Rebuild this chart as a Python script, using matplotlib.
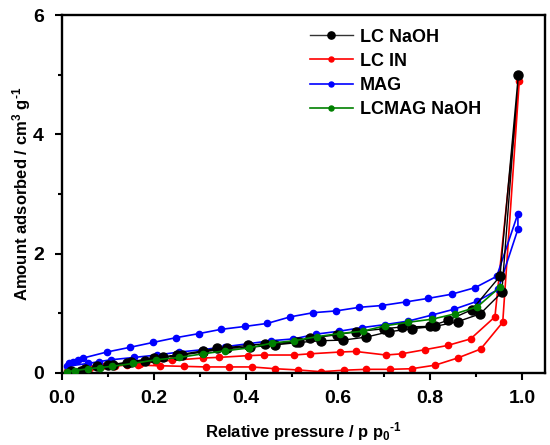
import numpy as np
import matplotlib.pyplot as plt
from matplotlib.ticker import MultipleLocator

plt.rcParams['font.family'] = ['Liberation Sans', 'DejaVu Sans']
plt.rcParams['font.weight'] = 'bold'
plt.rcParams['mathtext.fontset'] = 'custom'
plt.rcParams['mathtext.bf'] = 'Liberation Sans:bold'
plt.rcParams['mathtext.rm'] = 'Liberation Sans:bold'
plt.rcParams['mathtext.default'] = 'bf'

# LC NaOH: adsorption up, then desorption back down
lc_naoh_x = [0.017, 0.04, 0.075, 0.111, 0.14, 0.18, 0.22, 0.26, 0.306, 0.358, 0.409, 0.463,
             0.514, 0.563, 0.61, 0.661, 0.71, 0.76, 0.811, 0.86, 0.909, 0.956, 0.992,
             0.952, 0.891, 0.838, 0.80, 0.738, 0.699, 0.638, 0.597, 0.539, 0.509, 0.44,
             0.405, 0.336, 0.306, 0.25, 0.20, 0.15, 0.10, 0.05, 0.02]
lc_naoh_y = [0.00, 0.03, 0.11, 0.13, 0.16, 0.20, 0.26, 0.30, 0.35, 0.41, 0.43, 0.47,
             0.51, 0.54, 0.55, 0.60, 0.69, 0.74, 0.78, 0.86, 0.99, 1.35, 5.00,
             1.62, 1.06, 0.88, 0.78, 0.77, 0.74, 0.69, 0.64, 0.58, 0.52, 0.49,
             0.46, 0.41, 0.37, 0.30, 0.25, 0.19, 0.13, 0.07, 0.03]

# LC IN
lc_in_x = [0.02, 0.061, 0.086, 0.112, 0.141, 0.166, 0.213, 0.264, 0.313, 0.363, 0.412, 0.463,
           0.512, 0.563, 0.612, 0.661, 0.712, 0.76, 0.811, 0.86, 0.91, 0.958, 0.994,
           0.941, 0.888, 0.838, 0.789, 0.738, 0.704, 0.638, 0.604, 0.538, 0.504, 0.439,
           0.405, 0.34, 0.306, 0.238, 0.204, 0.17, 0.115, 0.05, 0.01]
lc_in_y = [0.05, 0.08, 0.11, 0.12, 0.13, 0.13, 0.12, 0.11, 0.10, 0.10, 0.10, 0.07,
           0.05, 0.02, 0.045, 0.06, 0.06, 0.07, 0.13, 0.25, 0.40, 0.85, 4.90,
           0.94, 0.57, 0.46, 0.39, 0.32, 0.30, 0.36, 0.35, 0.32, 0.30, 0.30,
           0.29, 0.26, 0.25, 0.21, 0.19, 0.15, 0.12, 0.09, 0.04]

# MAG
mag_x = [0.01, 0.057, 0.081, 0.106, 0.157, 0.206, 0.255, 0.306, 0.355, 0.405, 0.454, 0.503,
         0.552, 0.603, 0.652, 0.702, 0.753, 0.804, 0.853, 0.902, 0.948, 0.991,
         0.991, 0.945, 0.898, 0.847, 0.796, 0.747, 0.695, 0.646, 0.596, 0.546, 0.496,
         0.446, 0.398, 0.345, 0.298, 0.247, 0.197, 0.148, 0.097, 0.046, 0.035, 0.023, 0.014]
mag_y = [0.11, 0.16, 0.19, 0.22, 0.26, 0.30, 0.35, 0.39, 0.44, 0.49, 0.54, 0.57,
         0.65, 0.70, 0.76, 0.81, 0.87, 0.97, 1.07, 1.20, 1.40, 2.41,
         2.67, 1.62, 1.43, 1.32, 1.25, 1.19, 1.13, 1.10, 1.04, 1.01, 0.94,
         0.83, 0.78, 0.73, 0.66, 0.59, 0.51, 0.43, 0.35, 0.25, 0.22, 0.19, 0.16]

# LCMAG NaOH
lcmag_x = [0.01, 0.028, 0.057, 0.083, 0.108, 0.155, 0.204, 0.255, 0.306, 0.354, 0.407, 0.456,
           0.505, 0.555, 0.604, 0.654, 0.702, 0.753, 0.804, 0.854, 0.903, 0.952]
lcmag_y = [0.02, 0.04, 0.07, 0.09, 0.11, 0.16, 0.22, 0.26, 0.32, 0.37, 0.42, 0.50,
           0.54, 0.61, 0.66, 0.70, 0.79, 0.85, 0.90, 0.99, 1.11, 1.44]

fig = plt.figure(figsize=(5.5, 4.45), dpi=100)
ax = fig.add_axes([0.113, 0.162, 0.878, 0.804])

ax.plot(lc_naoh_x, lc_naoh_y, '-', color='black', lw=1.0, marker='o', ms=6.5,
        mfc='black', mec='black', label='LC NaOH', zorder=3)
ax.plot(lc_in_x, lc_in_y, '-', color='red', lw=1.2, marker='o', ms=4.5,
        mfc='red', mec='red', label='LC IN', zorder=2)
ax.plot(mag_x, mag_y, '-', color='blue', lw=1.2, marker='o', ms=4.5,
        mfc='blue', mec='blue', label='MAG', zorder=2)
ax.plot(lcmag_x, lcmag_y, '-', color='green', lw=1.2, marker='o', ms=4.5,
        mfc='green', mec='green', label='LCMAG NaOH', zorder=4)

ax.set_xlim(0, 1.05)
ax.set_ylim(0, 6)
ax.xaxis.set_minor_locator(MultipleLocator(0.1))
ax.yaxis.set_major_locator(MultipleLocator(2))
ax.yaxis.set_minor_locator(MultipleLocator(1))
ax.set_xticks([0, 0.2, 0.4, 0.6, 0.8, 1.0])
ax.set_xticklabels(['0.0', '0.2', '0.4', '0.6', '0.8', '1.0'])
ax.tick_params(which='major', direction='out', length=5, width=1.5, labelsize=14, pad=7)
ax.tick_params(axis='y', which='major', pad=8)
ax.tick_params(which='minor', direction='out', length=3, width=1.5)
for s in ax.spines.values():
    s.set_linewidth(1.7)

ax.set_xlabel(r'Relative pressure / p p$_0$$^{\text{-}1}$', fontsize=12, fontweight='bold', labelpad=10)
ax.set_ylabel(r'Amount adsorbed / cm$^3$ g$^{\text{-}1}$', fontsize=12, fontweight='bold', labelpad=0)

leg = ax.legend(loc='upper left', bbox_to_anchor=(0.48, 1.008), frameon=False, fontsize=13,
                handlelength=2.35, labelspacing=0.4, handletextpad=0.4, markerscale=0.8)
for t in leg.get_texts():
    t.set_fontweight('bold')
leg.get_lines()[0].set_color('#333333')

fig.savefig('out.png', dpi=100)
